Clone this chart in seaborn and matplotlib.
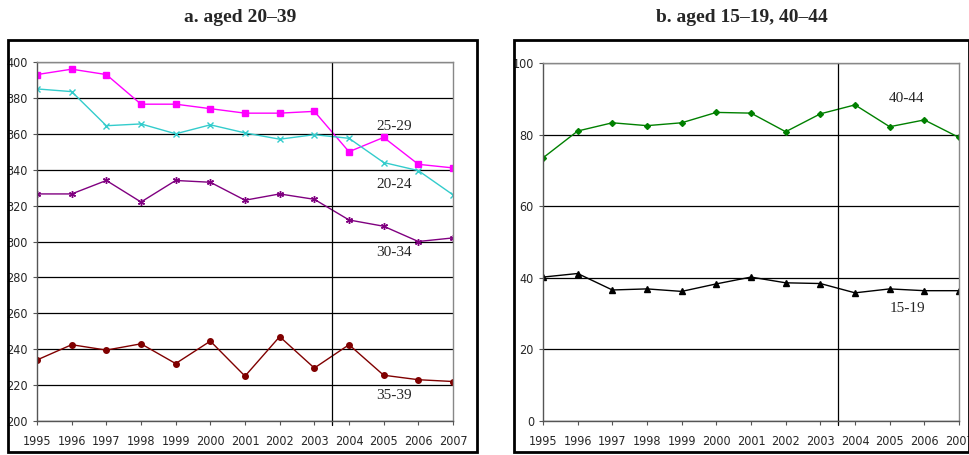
import pandas as pd
import matplotlib.pyplot as plt
import seaborn as sns
from matplotlib.patches import Rectangle

years = list(range(1995, 2008))

# panel a, aged 20-39
a_25_29 = [393, 396, 393, 376.5, 376.5, 374, 371.5, 371.5, 372.5, 350, 358, 343, 341]
a_20_24 = [385, 383.5, 364.5, 365.5, 360, 365, 360.5, 357, 359.5, 357.5, 344, 339.5, 326]
a_30_34 = [326.5, 326.5, 334, 322, 334, 333, 323, 326.5, 323.5, 312, 308.5, 300, 302]
a_35_39 = [234, 242.5, 239.5, 243, 232, 244.5, 225, 247, 229.5, 242.5, 225.5, 223, 222]

# panel b, aged 15-19 and 40-44
b_40_44 = [73.5, 81, 83.3, 82.5, 83.3, 86.2, 86, 80.8, 85.8, 88.3, 82.2, 84.1, 79.2]
b_15_19 = [40.2, 41.2, 36.6, 36.9, 36.2, 38.3, 40.2, 38.6, 38.4, 35.8, 36.9, 36.4, 36.4]

sns.set_style('white')
plt.rcParams['font.family'] = ['DejaVu Sans']

fig = plt.figure(figsize=(9.7, 4.55), dpi=100)
ax1 = fig.add_axes([37/970, 34/455, 416/970, 359/455])
ax2 = fig.add_axes([543/970, 34/455, 416/970, 358/455])

def draw(ax, y, color, marker, ms):
    df = pd.DataFrame({'year': years, 'value': y})
    sns.lineplot(data=df, x='year', y='value', ax=ax, color=color, marker=marker,
                 markersize=ms, markeredgecolor=color, markerfacecolor=color, linewidth=1,
                 markeredgewidth=1)

draw(ax1, a_25_29, '#ff00ff', 's', 5)
draw(ax1, a_20_24, '#33cccc', 'x', 4)
draw(ax1, a_30_34, '#800080', (6, 2, 0), 5)
draw(ax1, a_35_39, '#800000', 'o', 4)

draw(ax2, b_40_44, '#008000', 'D', 3)
draw(ax2, b_15_19, '#000000', '^', 4)

label_font = dict(family='Liberation Serif', fontsize=11)
ax1.text(2005.3, 362, '25-29', ha='center', **label_font)
ax1.text(2005.3, 330, '20-24', ha='center', **label_font)
ax1.text(2005.3, 292, '30-34', ha='center', **label_font)
ax1.text(2005.3, 212, '35-39', ha='center', **label_font)
ax2.text(2005.5, 89, '40-44', ha='center', **label_font)
ax2.text(2005.5, 30.5, '15-19', ha='center', **label_font)

for ax, lo, hi, step in [(ax1, 200, 400, 20), (ax2, 0, 100, 20)]:
    ax.set_xlim(1995, 2007)
    ax.set_ylim(lo, hi)
    ax.set_yticks(range(lo, hi + 1, step))
    ax.set_xticks(years)
    ax.set_xlabel('')
    ax.set_ylabel('')
    ax.grid(axis='y', color='black', linewidth=0.9)
    ax.axvline(2003.5, ymin=-0.01, ymax=1, color='black', linewidth=0.9, clip_on=False)
    for side in ['top', 'right']:
        ax.spines[side].set_color('#888888')
        ax.spines[side].set_linewidth(1)
    for side in ['left', 'bottom']:
        ax.spines[side].set_color('#555555')
        ax.spines[side].set_linewidth(1)
    ax.tick_params(axis='both', which='both', length=3, width=0.8, direction='out',
                   labelsize=9, bottom=True, left=True, color='#555555')
    ax.tick_params(axis='x', pad=7)
    for lbl in ax.get_xticklabels() + ax.get_yticklabels():
        lbl.set_fontstretch('condensed')

fig.text(240/970, 1 - 17/455, 'a. aged 20–39', ha='center', va='center',
         family='Liberation Serif', fontweight='bold', fontsize=14)
fig.text(742/970, 1 - 17/455, 'b. aged 15–19, 40–44', ha='center', va='center',
         family='Liberation Serif', fontweight='bold', fontsize=14)

fig.patches.append(Rectangle((8/970, 3/455), 469/970, 412/455, transform=fig.transFigure,
                             fill=False, edgecolor='black', linewidth=2))
fig.patches.append(Rectangle((514/970, 3/455), 455/970, 412/455, transform=fig.transFigure,
                             fill=False, edgecolor='black', linewidth=2))

fig.savefig('out.png', dpi=100)
